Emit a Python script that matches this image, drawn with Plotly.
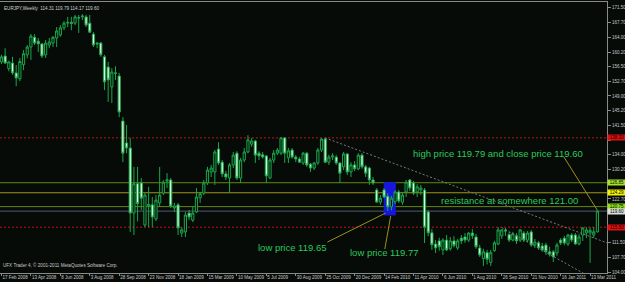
import plotly.graph_objects as go
import pandas as pd

# ---------------- data ----------------
start = pd.Timestamp("2008-02-17")

opens = [157.7, 159.2, 156.0, 157.4, 154.9, 153.4, 157.0, 159.5, 161.5, 164.0,
         163.0, 162.3, 159.5, 162.0, 162.5, 163.8, 164.6, 166.4, 167.6, 167.8,
         167.6, 169.0, 169.2, 169.2, 167.6, 164.8, 162.5, 162.5, 159.0, 156.4,
         151.3, 154.9, 154.1, 142.6, 137.0, 135.7, 119.1, 126.6, 126.8, 116.05,
         121.0, 121.2, 117.6, 121.7, 124.2, 127.3, 127.55, 120.4, 121.2, 114.0,
         114.3, 119.1, 117.3, 119.4, 123.0, 124.2, 126.8, 129.6, 129.6, 135.45,
         132.1, 129.1, 128.05, 131.4, 134.4, 128.05, 132.65, 134.7, 136.7, 137.5,
         134.4, 134.0, 133.7, 128.05, 132.65, 134.4, 134.4, 138.3, 133.2, 135.2,
         133.4, 132.9, 131.9, 134.4, 131.6, 130.6, 131.9, 135.2, 138.0, 132.1,
         133.4, 133.4, 131.9, 130.9, 134.2, 129.6, 131.4, 130.4, 133.9, 130.9,
         130.6, 127.55, 125.0, 121.9, 125.0, 123.4, 120.7, 122.0, 124.5, 121.9,
         124.5, 127.55, 126.8, 124.5, 125.0, 125.0, 119.4, 114.05, 111.2, 112.0,
         109.7, 112.2, 110.0, 112.0, 110.2, 112.7, 113.0, 112.2, 114.0, 113.0,
         110.2, 107.5, 109.0, 106.5, 109.5, 111.2, 113.3, 114.8, 113.6, 112.2,
         113.3, 112.2, 114.0, 112.2, 114.3, 110.95, 111.5, 110.7, 110.95, 109.2,
         109.2, 108.9, 112.2, 112.7, 111.2, 113.5, 113.5, 111.2, 113.5, 114.05,
         114.0, 113.5, 114.31]

highs = [159.5, 161.2, 158.0, 159.0, 156.9, 158.7, 160.7, 162.0, 164.8, 164.8,
         163.8, 162.5, 163.3, 163.8, 164.3, 166.6, 167.1, 168.1, 169.2, 169.2,
         169.7, 169.7, 169.9, 169.7, 169.7, 165.3, 162.8, 162.8, 159.5, 157.7,
         156.1, 156.6, 154.9, 143.6, 141.6, 138.3, 130.9, 130.9, 128.05, 124.2,
         125.8, 123.2, 123.7, 130.9, 127.5, 129.3, 128.05, 121.7, 121.7, 115.5,
         119.4, 119.9, 120.7, 125.5, 124.5, 127.55, 130.9, 131.4, 135.2, 137.2,
         132.65, 129.85, 131.9, 134.7, 134.9, 133.2, 135.7, 139.0, 138.3, 137.8,
         134.9, 134.7, 133.9, 133.2, 135.2, 135.7, 138.5, 138.5, 135.7, 135.7,
         133.9, 133.4, 134.7, 134.7, 131.9, 132.1, 135.7, 138.3, 138.3, 134.0,
         134.4, 133.9, 132.1, 134.7, 134.4, 132.1, 132.4, 134.4, 134.4, 131.4,
         130.9, 128.3, 125.5, 123.7, 125.5, 124.2, 123.5, 124.9, 125.0, 124.5,
         127.55, 127.8, 127.3, 126.5, 126.3, 125.5, 119.9, 115.0, 112.2, 112.8,
         112.7, 113.5, 113.0, 113.2, 112.5, 113.5, 114.0, 114.3, 115.0, 113.8,
         111.0, 110.0, 109.7, 109.7, 112.0, 115.5, 115.0, 115.3, 114.3, 114.3,
         114.0, 115.0, 114.5, 114.5, 114.8, 112.5, 112.0, 111.5, 111.5, 110.5,
         109.7, 111.5, 112.7, 113.3, 113.8, 114.0, 114.0, 113.8, 115.5, 115.5,
         115.5, 115.5, 119.79]

lows = [157.2, 157.2, 155.3, 154.4, 151.5, 152.8, 155.6, 158.6, 158.2, 162.0,
        160.2, 158.7, 158.7, 161.2, 161.5, 161.5, 164.1, 165.8, 166.6, 165.8,
        167.1, 165.1, 168.4, 166.6, 165.1, 161.5, 161.2, 159.0, 150.5, 147.5,
        147.2, 153.1, 143.6, 132.1, 134.4, 114.3, 113.5, 117.0, 119.9, 115.5,
        115.5, 115.5, 117.1, 120.7, 123.7, 125.5, 120.4, 119.4, 113.5, 113.0,
        113.0, 117.3, 116.8, 119.1, 121.7, 123.7, 126.3, 128.3, 126.3, 131.4,
        128.3, 127.55, 124.2, 130.6, 127.55, 126.8, 132.1, 134.4, 136.0, 131.9,
        132.65, 133.0, 126.8, 127.8, 131.9, 133.9, 133.9, 131.9, 131.9, 133.0,
        132.1, 131.9, 131.4, 130.9, 129.6, 130.1, 131.4, 134.7, 131.9, 131.4,
        132.65, 131.4, 126.8, 130.1, 128.8, 128.3, 129.8, 130.1, 130.4, 128.3,
        126.3, 126.3, 121.7, 121.2, 122.9, 119.65, 119.77, 121.4, 121.7, 121.2,
        123.2, 124.7, 123.7, 123.2, 123.7, 111.45, 113.2, 109.7, 108.9, 109.5,
        108.4, 109.4, 109.5, 110.3, 109.7, 111.2, 111.5, 111.7, 112.5, 110.0,
        107.9, 105.6, 106.0, 105.6, 109.2, 110.9, 112.5, 113.3, 111.7, 111.9,
        111.2, 111.7, 111.7, 111.7, 110.5, 110.2, 109.7, 109.2, 108.4, 108.0,
        106.6, 108.2, 110.95, 110.9, 110.7, 111.7, 111.0, 110.9, 112.0, 112.7,
        106.4, 112.7, 114.17]

closes = [159.0, 157.4, 157.7, 154.9, 153.6, 157.8, 159.8, 161.5, 164.3, 162.5,
          162.3, 159.2, 162.5, 162.8, 164.0, 165.6, 166.4, 167.6, 167.8, 167.5,
          169.2, 168.9, 169.4, 167.1, 165.3, 162.0, 162.3, 159.5, 152.6, 153.1,
          155.1, 154.8, 144.9, 134.4, 135.7, 119.1, 126.6, 121.5, 122.9, 123.7,
          121.3, 118.1, 122.4, 123.7, 127.0, 127.6, 120.9, 120.9, 115.3, 114.8,
          118.6, 118.1, 119.1, 123.2, 124.0, 126.8, 130.1, 130.6, 134.7, 131.9,
          129.1, 128.3, 131.4, 133.9, 128.05, 132.65, 134.7, 137.8, 137.5, 133.9,
          133.7, 133.4, 128.6, 132.65, 134.4, 135.2, 138.3, 134.4, 135.0, 133.4,
          132.9, 132.1, 134.4, 131.4, 130.6, 131.9, 135.2, 138.0, 132.1, 133.4,
          133.7, 131.9, 129.3, 134.2, 129.6, 131.4, 130.4, 133.9, 130.9, 129.3,
          127.55, 126.8, 121.9, 122.9, 123.2, 120.7, 122.9, 124.5, 122.2, 123.7,
          127.0, 125.5, 124.2, 125.8, 125.5, 115.5, 114.05, 111.0, 110.2, 110.5,
          112.2, 109.7, 112.0, 110.8, 112.0, 112.0, 112.2, 114.0, 113.3, 110.5,
          108.4, 109.2, 107.3, 109.0, 111.5, 114.8, 114.8, 114.5, 112.2, 113.8,
          112.0, 114.8, 112.2, 114.0, 110.95, 111.7, 110.2, 109.7, 109.2, 108.6,
          107.9, 110.95, 111.45, 111.45, 113.5, 112.2, 111.2, 113.0, 115.3, 114.8,
          114.7, 114.31, 119.60]

date_labels = ["17 Feb 2008", "13 Apr 2008", "8 Jun 2008", "3 Aug 2008", "28 Sep 2008",
               "23 Nov 2008", "18 Jan 2009", "15 Mar 2009", "10 May 2009", "5 Jul 2009",
               "30 Aug 2009", "25 Oct 2009", "20 Dec 2009", "14 Feb 2010", "11 Apr 2010",
               "6 Jun 2010", "1 Aug 2010", "26 Sep 2010", "21 Nov 2010", "16 Jan 2011",
               "13 Mar 2011"]

price_ticks = [171.5, 167.7, 164.0, 160.2, 156.5, 152.7, 149.0, 145.2, 141.5, 137.7,
               134.0, 130.2, 126.5, 122.7, 119.0, 115.2, 111.5, 107.7, 104.0]
# tick labels that the coloured price boxes cover in the reference
covered_ticks = [137.7, 126.5, 119.0, 115.2]

# horizontal levels: (price, line colour, label colour, dotted)
levels = [(138.30, "#c01414", "#e01010", True),
          (126.85, "#628a10", "#a6e22a", False),
          (124.29, "#9a9818", "#f2f200", False),
          (120.75, "#628a10", "#8ee01a", False),
          (119.60, "#505c7a", "#dcdcdc", False),
          (115.50, "#c01414", "#e01010", True)]

notes = [("high price 119.79 and close price 119.60", 111.3, 134.4),
         ("resistance at somewhere 121.00", 118.9, 122.4),
         ("low price 119.65", 69.3, 110.4),
         ("low price 119.77", 94.1, 109.15)]


def wk(i):
    return start + pd.Timedelta(days=7 * i)


dates = [wk(i) for i in range(len(opens))]
tick_dates = [wk(8 * k) for k in range(len(date_labels))]

BG = "#070b08"
GREEN = "#1aa64a"
TXT = "#2cc85a"
OLIVE = "#9a8f1e"
AX = "#8a8a8a"
FONT = "Liberation Sans, Arial, sans-serif"

fig = go.Figure()
fig.add_trace(go.Candlestick(
    x=dates, open=opens, high=highs, low=lows, close=closes,
    increasing=dict(line=dict(color=GREEN, width=1), fillcolor="#07110a"),
    decreasing=dict(line=dict(color=GREEN, width=1), fillcolor="#e2fbe2"),
    whiskerwidth=0, showlegend=False, hoverinfo="skip"))

shapes = []
shapes.append(dict(type="rect", xref="x", yref="y", x0=wk(103.9), x1=wk(107.2),
                   y0=118.5, y1=127.0, fillcolor="#1616dc", line=dict(width=0),
                   layer="below"))
for p, lc, bc, dotted in levels:
    shapes.append(dict(type="line", xref="paper", yref="y", x0=0, x1=1, y0=p, y1=p,
                       line=dict(color=lc, width=1, dash="2px,2px" if dotted else "solid"),
                       layer="below"))
shapes.append(dict(type="line", xref="x", yref="y", x0=wk(88), y0=138.3,
                   x1=wk(164.6), y1=111.5,
                   line=dict(color="#7a7a7a", width=1, dash="2px,2px")))
shapes.append(dict(type="line", xref="x", yref="y", x0=wk(136), y0=115.4,
                   x1=wk(160.5), y1=102.5,
                   line=dict(color="#7a7a7a", width=1, dash="2px,2px")))
shapes.append(dict(type="line", xref="x", yref="y", x0=wk(88.6), y0=111.7,
                   x1=wk(104.4), y1=119.1, line=dict(color=OLIVE, width=1)))
shapes.append(dict(type="line", xref="x", yref="y", x0=wk(105.8), y0=118.35,
                   x1=wk(104.2), y1=109.9, line=dict(color=OLIVE, width=1)))
shapes.append(dict(type="line", xref="x", yref="y", x0=wk(152.9), y0=133.4,
                   x1=wk(162), y1=119.79, line=dict(color=OLIVE, width=1)))

annotations = []
for text, xi, yp in notes:
    annotations.append(dict(x=wk(xi), y=yp, xref="x", yref="y", text=text,
                            showarrow=False, xanchor="left", yanchor="middle",
                            font=dict(family=FONT, size=9.5, color=TXT)))
for p, lc, bc, dotted in levels:
    annotations.append(dict(x=1, y=p, xref="paper", yref="y", text=f"{p:.2f}",
                            showarrow=False, xanchor="left", yanchor="middle",
                            bgcolor=bc, borderpad=0, width=18, height=5,
                            font=dict(family=FONT, size=4.5, color="#000000")))
title = "EURJPY,Weekly  {:.2f} {:.2f} {:.2f} {:.2f}".format(
    opens[-1], highs[-1], lows[-1], closes[-1])
annotations.append(dict(x=0.003, y=0.993, xref="paper", yref="paper", text=title,
                        showarrow=False, xanchor="left", yanchor="top",
                        font=dict(family=FONT, size=4.6, color="#d0d0d0")))
annotations.append(dict(x=0.002, y=0.012, xref="paper", yref="paper",
                        text="UFX Trader 4, \u00a9 2001-2011 MetaQuotes Software Corp.",
                        showarrow=False, xanchor="left", yanchor="bottom",
                        font=dict(family=FONT, size=4.6, color="#c8c8c8")))

fig.update_layout(
    width=625, height=282,
    margin=dict(l=0, r=18, t=2, b=9, autoexpand=False),
    paper_bgcolor=BG, plot_bgcolor=BG,
    shapes=shapes, annotations=annotations,
    showlegend=False, boxgap=0.15,
    xaxis=dict(type="date", range=[wk(-0.4), wk(164.6)], rangeslider=dict(visible=False),
               automargin=False, tickangle=0,
               showgrid=False, zeroline=False, showline=True, mirror=True,
               linecolor=AX, linewidth=1, ticks="outside", ticklen=2, tickcolor=AX,
               tickvals=tick_dates, ticktext=date_labels,
               ticklabelposition="outside right",
               tickfont=dict(family=FONT, size=4.5, color="#c8c8c8")),
    yaxis=dict(side="right", range=[103.8, 173.0], showgrid=False, zeroline=False,
               automargin=False,
               showline=True, mirror=True, linecolor=AX, linewidth=1,
               ticks="outside", ticklen=3, tickcolor=AX,
               tickvals=price_ticks,
               ticktext=["" if v in covered_ticks else f"{v:.2f}" for v in price_ticks],
               tickfont=dict(family=FONT, size=4.5, color="#c8c8c8")),
)

fig.write_html("out.html")
